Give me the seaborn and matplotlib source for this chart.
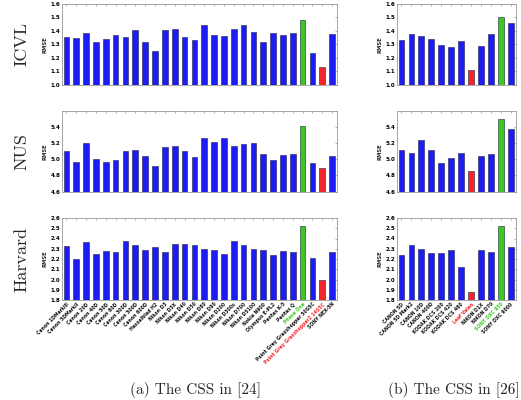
import numpy as np
import pandas as pd
import matplotlib
matplotlib.use("Agg")
import matplotlib.pyplot as plt
import seaborn as sns

# --- data ---
cams_a = ["Canon 1DMarkIII", "Canon 5DMarkII", "Canon 20D", "Canon 40D", "Canon 50D",
          "Canon 60D", "Canon 300D", "Canon 500D", "Canon 600D", "Hasselblad H2",
          "Nikon D3", "Nikon D3X", "Nikon D40", "Nikon D50", "Nikon D80", "Nikon D90",
          "Nikon D200", "Nikon D300s", "Nikon D700", "Nikon D5100", "Nokia N900",
          "Olympus E-PL2", "Pentax K-5", "Pentax Q", "Phase One",
          "Point Grey Grasshopper 50S5C", "Point Grey Grasshopper2 14S5C", "SONY NEX-5N"]
cams_b = ["CANON 5D", "CANON 5D Mark2", "CANON 10D", "CANON 400D", "KODAK DCS 200",
          "KODAK DCS 420", "KODAK DCS 460", "Leaf Valeo", "NIKON D1X", "NIKON D70",
          "SONY DXC 930", "SONY DXC 9000"]

icvl_a = [1.356, 1.35, 1.385, 1.32, 1.34, 1.373, 1.356, 1.405, 1.316, 1.25, 1.41, 1.417,
          1.358, 1.336, 1.447, 1.37, 1.365, 1.417, 1.447, 1.39, 1.316, 1.388, 1.37, 1.388,
          1.484, 1.237, 1.133, 1.375]
nus_a = [5.106, 4.965, 5.20, 5.007, 4.965, 4.986, 5.098, 5.115, 5.04, 4.911, 5.148, 5.168,
         5.106, 5.03, 5.268, 5.214, 5.268, 5.168, 5.193, 5.20, 5.065, 4.994, 5.05, 5.07,
         5.41, 4.95, 4.89, 5.04]
harv_a = [2.331, 2.203, 2.367, 2.246, 2.279, 2.269, 2.377, 2.334, 2.289, 2.321, 2.266, 2.351,
          2.344, 2.334, 2.298, 2.289, 2.249, 2.377, 2.334, 2.298, 2.285, 2.239, 2.28, 2.27,
          2.52, 2.21, 2.00, 2.27]

icvl_b = [1.336, 1.375, 1.363, 1.343, 1.294, 1.277, 1.323, 1.109, 1.286, 1.38, 1.50, 1.46]
nus_b = [5.119, 5.077, 5.243, 5.11, 4.953, 5.015, 5.073, 4.849, 5.036, 5.065, 5.50, 5.38]
harv_b = [2.239, 2.336, 2.302, 2.262, 2.255, 2.284, 2.12, 1.875, 2.288, 2.268, 2.52, 2.32]

best_a, worst_a = "Phase One", "Point Grey Grasshopper2 14S5C"
best_b, worst_b = "SONY DXC 930", "Leaf Valeo"

row_names = ["ICVL", "NUS", "Harvard"]
ylims = [(1.0, 1.6), (4.6, 5.6), (1.8, 2.6)]
yticks = [np.arange(1.0, 1.61, 0.1), np.arange(4.6, 5.41, 0.2), np.arange(1.8, 2.61, 0.1)]

BLUE, GREEN, RED = "#1c1cf5", "#3cc81e", "#f5262a"

sns.set_style("white")
plt.rcParams["font.family"] = ["DejaVu Sans"]

fig = plt.figure(figsize=(5.21, 4.0), dpi=100)

rows_y = [(0.788, 0.202), (0.521, 0.202), (0.25, 0.205)]
cols_x = [(0.119, 0.528), (0.762, 0.228)]


def draw_panel(ax, cams, vals, best, worst, ylim, ticks, show_labels):
    colors = [GREEN if c == best else RED if c == worst else BLUE for c in cams]
    df = pd.DataFrame({"cam": cams, "rmse": vals})
    sns.barplot(data=df, x="cam", y="rmse", hue="cam", palette=colors, legend=False,
                width=0.58, edgecolor="#202040", linewidth=0.4, ax=ax, saturation=1)
    ax.set_ylim(*ylim)
    ax.set_xlim(-0.45, len(cams) - 0.5)
    ax.set_yticks(ticks)
    ax.set_yticklabels([f"{t:.1f}" for t in ticks], fontsize=4, fontweight="bold")
    ax.set_ylabel("RMSE", fontsize=3.8, fontweight="bold", labelpad=2)
    ax.set_xlabel("")
    ax.tick_params(direction="in", length=1.5, width=0.4, colors="#777777",
                   top=True, right=True, pad=1.2)
    for lab in ax.get_yticklabels():
        lab.set_color("black")
    for sp in ax.spines.values():
        sp.set_color("#999999")
        sp.set_linewidth(0.6)
    ax.set_xticks(range(len(cams)))
    if show_labels:
        ax.set_xticklabels(cams, rotation=45, ha="right", rotation_mode="anchor",
                           fontsize=3.3, fontweight="bold")
        for lab, c in zip(ax.get_xticklabels(), cams):
            lab.set_color(GREEN if c == best else RED if c == worst else "#111111")
    else:
        ax.set_xticklabels([])


data_a = [icvl_a, nus_a, harv_a]
data_b = [icvl_b, nus_b, harv_b]

for r in range(3):
    y0, h = rows_y[r]
    axa = fig.add_axes([cols_x[0][0], y0, cols_x[0][1], h])
    draw_panel(axa, cams_a, data_a[r], best_a, worst_a, ylims[r], yticks[r], r == 2)
    axb = fig.add_axes([cols_x[1][0], y0, cols_x[1][1], h])
    draw_panel(axb, cams_b, data_b[r], best_b, worst_b, ylims[r], yticks[r], r == 2)
    fig.text(0.042, y0 + h / 2, row_names[r], rotation=90, ha="center", va="center",
             fontsize=13, family=["cmr10", "Liberation Serif"])

fig.text(0.375, 0.025, "(a) The CSS in [24]", ha="center", va="center",
         fontsize=11, family=["cmr10", "Liberation Serif"])
fig.text(0.872, 0.025, "(b) The CSS in [26]", ha="center", va="center",
         fontsize=11, family=["cmr10", "Liberation Serif"])

fig.savefig("out.png", dpi=100)
